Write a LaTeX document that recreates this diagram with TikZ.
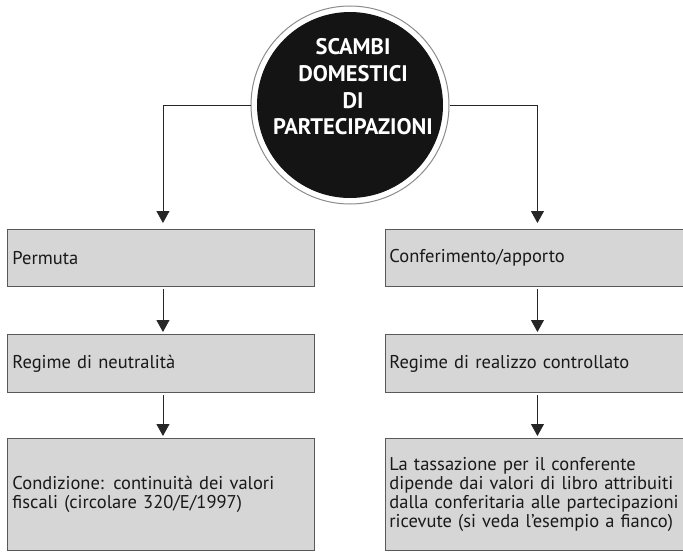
\documentclass[tikz,border=0pt]{standalone}
\usepackage{fontspec}
\setmainfont{PT Sans}
\usetikzlibrary{arrows.meta}
\begin{document}
\begin{tikzpicture}[x=1pt,y=-1pt,
  box/.style={draw=black!65, line width=0.9pt, fill=black!16, anchor=north west,
    inner sep=5pt, align=left, font=\fontsize{18.5}{19}\selectfont, text=black!90},
  lbox/.style={box, minimum width=307pt, text width=297pt},
  rbox/.style={box, minimum width=298pt, text width=290pt, inner xsep=4pt},
  conn/.style={draw=black!85, line width=0.8pt, -{Triangle[length=12pt,width=13pt]}}
]
\useasboundingbox (0,0) rectangle (683,554);
% central circle
\node (ring) [circle, draw=black!45, line width=1pt, minimum size=198pt, inner sep=0pt] at (350,105) {};
\node (disc) [circle, fill=black!92, minimum size=186pt, inner sep=0pt] at (350,105) {};
\node (title) [align=center, text=white, inner sep=0pt,
  font=\bfseries\fontsize{22.5}{26.7}\selectfont] at (353,87)
  {SCAMBI\\DOMESTICI\\DI\\PARTECIPAZIONI};
% left column
\node (l1) [lbox, minimum height=57pt] at (7,229) {Permuta};
\node (l2) [lbox, minimum height=58pt] at (7,334) {Regime di neutralità};
\node (l3) [lbox, minimum height=112pt] at (7,438) {Condizione: continuità dei valori\\fiscali (circolare 320/E/1997)};
% right column
\node (r1) [rbox, minimum height=57pt] at (385,229) {Conferimento/apporto};
\node (r2) [rbox, minimum height=58pt] at (385,334) {Regime di realizzo controllato};
\node (r3) [rbox, minimum height=112pt] at (385,438) {La tassazione per il conferente\\dipende dai valori di libro attribuiti\\dalla conferitaria alle partecipazioni\\ricevute (si veda l’esempio a fianco)};
% connectors
\draw[conn, shorten >=6pt] (ring.west) -| ([xshift=2pt]l1.north);
\draw[conn, shorten >=6pt] (ring.east) -| ([xshift=3pt]r1.north);
\draw[conn, shorten <=2pt, shorten >=2pt] ([xshift=2pt]l1.south) -- ([xshift=2pt]l2.north);
\draw[conn, shorten <=2pt, shorten >=2pt] ([xshift=2pt]l2.south) -- ([xshift=2pt]l3.north);
\draw[conn, shorten <=2pt, shorten >=2pt] ([xshift=3pt]r1.south) -- ([xshift=3pt]r2.north);
\draw[conn, shorten <=2pt, shorten >=2pt] ([xshift=3pt]r2.south) -- ([xshift=3pt]r3.north);
\end{tikzpicture}
\end{document}
